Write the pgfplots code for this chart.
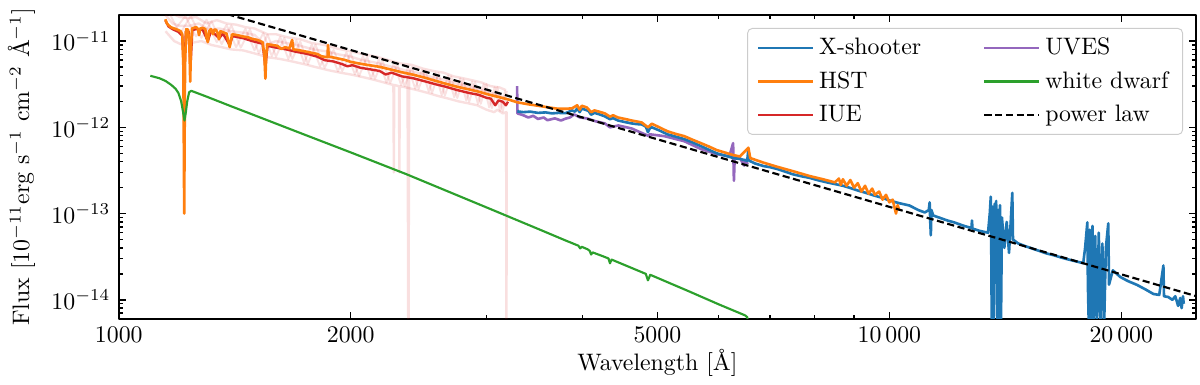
\documentclass[border=0pt]{standalone}
\usepackage{pgfplots}
\pgfplotsset{compat=1.18}
\definecolor{tabblue}{HTML}{1F77B4}
\definecolor{taborange}{HTML}{FF7F0E}
\definecolor{tabgreen}{HTML}{2CA02C}
\definecolor{tabred}{HTML}{D62728}
\definecolor{tabpurple}{HTML}{9467BD}
\begin{document}
\begin{tikzpicture}
\begin{axis}[
  scale only axis,
  width=452.5pt, height=127.5pt,
  xmode=log, ymode=log,
  xmin=1000, xmax=25000,
  ymin=6.05e-15, ymax=2.0e-11,
  xtick={1000,2000,5000,10000,20000},
  xticklabels={$1000$,$2000$,$5000$,$10\,000$,$20\,000$},
  minor xtick={3000,4000,6000,7000,8000,9000},
  ytick={1e-14,1e-13,1e-12,1e-11},
  minor ytick={7e-15,8e-15,9e-15,2e-14,3e-14,4e-14,5e-14,6e-14,7e-14,8e-14,9e-14,
    2e-13,3e-13,4e-13,5e-13,6e-13,7e-13,8e-13,9e-13,2e-12,3e-12,4e-12,5e-12,6e-12,7e-12,8e-12,9e-12},
  xlabel={Wavelength [Å]},
  ylabel={Flux [$10^{-11}$erg s$^{-1}$ cm$^{-2}$ Å$^{-1}$]},
  tick align=inside,
  major tick length=3pt, minor tick length=1.7pt,
  axis line style={line width=0.8pt},
  every tick/.style={black, line width=0.6pt},
  xlabel style={yshift=4pt},
  legend columns=2,
  legend cell align=left,
  legend image code/.code={\draw[#1] (0pt,0pt) -- (23pt,0pt);},
  legend style={at={(1,1)}, xshift=-5.4pt, yshift=-5.4pt, anchor=north east,
    draw=black!20, rounded corners=2pt, fill=white, fill opacity=0.8, text opacity=1,
    row sep=1.5pt, inner xsep=4pt, inner ysep=2pt,
    /tikz/every even column/.append style={column sep=24pt}},
  line join=round,
]
% IUE single spectra (faint)
\addplot[tabred, opacity=0.14, line width=0.8pt, forget plot] coordinates {
(1160,2.24e-11)(1200,1.2e-11)(1240,1.95e-11)(1280,1.09e-11)(1320,1.69e-11)(1360,9.2e-12)(1400,1.52e-11)(1440,8.4e-12)(1480,1.37e-11)(1520,7.2e-12)(1560,1.19e-11)(1600,6.6e-12)(1640,1.09e-11)(1680,6.2e-12)(1720,9.9e-12)(1760,5.4e-12)(1800,9.1e-12)(1850,4.9e-12)(1900,7.9e-12)(1950,4.5e-12)(2000,7.2e-12)(2050,3.9e-12)(2100,6.6e-12)(2150,3.65e-12)(2200,5.9e-12)(2250,3.27e-12)(2300,5.3e-12)(2350,3.0e-12)(2400,5.0e-12)(2450,2.8e-12)(2500,4.55e-12)(2550,2.5e-12)(2600,4.25e-12)(2650,2.33e-12)(2700,3.9e-12)(2750,2.19e-12)(2800,3.6e-12)(2850,1.98e-12)(2900,3.35e-12)(2950,1.87e-12)(3000,3.17e-12)(3050,1.67e-12)(3100,2.93e-12)(3150,1.52e-12)(3190,2.64e-12)};
\addplot[tabred, opacity=0.14, line width=0.8pt, forget plot] coordinates {
(1180,1.33e-11)(1220,1.94e-11)(1260,1.13e-11)(1300,1.77e-11)(1340,9.7e-12)(1380,1.54e-11)(1420,8.5e-12)(1460,1.39e-11)(1500,7.8e-12)(1540,1.24e-11)(1580,6.7e-12)(1620,1.12e-11)(1660,6.2e-12)(1700,1.02e-11)(1740,5.6e-12)(1780,9.1e-12)(1825,5.1e-12)(1875,8.3e-12)(1925,4.46e-12)(1975,7.4e-12)(2025,4.13e-12)(2075,6.7e-12)(2125,3.69e-12)(2175,6.1e-12)(2225,3.3e-12)(2275,5.5e-12)(2325,3.1e-12)(2375,5.0e-12)(2425,2.8e-12)(2475,4.65e-12)(2525,2.6e-12)(2575,4.3e-12)(2625,2.35e-12)(2675,3.97e-12)(2725,2.23e-12)(2775,3.7e-12)(2825,2.04e-12)(2875,3.4e-12)(2925,1.87e-12)(2975,3.17e-12)(3025,1.7e-12)(3075,2.92e-12)(3125,1.55e-12)(3175,2.68e-12)};
\addplot[tabred, opacity=0.15, line width=1pt, forget plot] coordinates {
(1150,2.4e-11)(1170,2.1e-11)(1200,1.9e-11)(1230,1.85e-11)(1260,1.9e-11)(1300,1.6e-11)(1340,1.75e-11)(1380,1.6e-11)(1420,1.55e-11)(1460,1.45e-11)(1500,1.4e-11)(1560,1.2e-11)(1600,1.2e-11)(1660,1.1e-11)(1720,1.05e-11)(1780,9.5e-12)(1850,9.0e-12)(1920,8.2e-12)(2000,7.6e-12)(2080,7.0e-12)(2160,6.6e-12)(2240,6.0e-12)(2320,5.5e-12)(2400,5.3e-12)(2480,4.8e-12)(2560,4.5e-12)(2640,4.3e-12)(2720,3.9e-12)(2800,3.7e-12)(2880,3.5e-12)(2960,3.3e-12)(3040,3.0e-12)(3120,2.9e-12)(3180,2.7e-12)};
\addplot[tabred, opacity=0.15, line width=1pt, forget plot] coordinates {
(1150,1.3e-11)(1180,1.0e-11)(1210,9e-12)(1240,9.5e-12)(1280,1.0e-11)(1320,9.0e-12)(1360,8.5e-12)(1400,8.0e-12)(1450,7.8e-12)(1500,7.2e-12)(1560,6.5e-12)(1620,6.2e-12)(1680,5.8e-12)(1740,5.4e-12)(1800,5.0e-12)(1870,4.6e-12)(1940,4.3e-12)(2000,4.1e-12)(2080,3.8e-12)(2160,3.5e-12)(2240,3.2e-12)(2272,3.1e-12)(2275,3e-13)(2278,3.1e-12)(2310,3.0e-12)(2313,3e-13)(2316,3.0e-12)(2360,2.9e-12)(2440,2.7e-12)(2520,2.5e-12)(2600,2.3e-12)(2680,2.15e-12)(2760,2.0e-12)(2840,1.9e-12)(2920,1.8e-12)(3000,1.6e-12)(3070,1.5e-12)(3100,1.6e-12)(3150,1.45e-12)(3182,1.5e-12)(3185,1e-15)(3188,1.5e-12)(3195,1.5e-12)};
\addplot[tabred, opacity=0.15, line width=1pt, forget plot] coordinates {
(1150,2.0e-11)(1175,1.6e-11)(1200,1.5e-11)(1235,1.5e-11)(1270,1.6e-11)(1310,1.35e-11)(1350,1.4e-11)(1400,1.3e-11)(1450,1.25e-11)(1500,1.18e-11)(1550,9e-12)(1600,1.0e-11)(1660,9.4e-12)(1720,8.8e-12)(1790,8.0e-12)(1860,7.6e-12)(1930,7.0e-12)(2000,6.6e-12)(2070,6.0e-12)(2140,5.7e-12)(2210,5.3e-12)(2290,4.9e-12)(2370,4.5e-12)(2376,1e-15)(2382,4.5e-12)(2470,4.2e-12)(2550,3.8e-12)(2630,3.6e-12)(2710,3.3e-12)(2790,3.1e-12)(2870,2.9e-12)(2950,2.75e-12)(3030,2.55e-12)(3110,2.35e-12)(3170,2.2e-12)};
% UVES
\addplot[tabpurple, line width=1.1pt, forget plot] coordinates {
(3288,3.0e-12)(3292,1.45e-12)(3350,1.38e-12)(3400,1.30e-12)(3450,1.36e-12)(3500,1.25e-12)(3560,1.30e-12)(3600,1.21e-12)(3680,1.27e-12)(3750,1.20e-12)(3800,1.26e-12)(3850,1.30e-12)(3900,1.41e-12)(3970,1.30e-12)(4050,1.27e-12)(4150,1.18e-12)(4274,1.11e-12)(4340,1.0e-12)(4450,1.05e-12)(4630,9.7e-13)(4861,8.0e-13)(4888,8.3e-13)(5107,7.9e-13)(5419,6.9e-13)(5696,5.6e-13)(5970,4.9e-13)(6200,4.6e-13)(6270,6.55e-13)(6285,2.4e-13)(6300,4.5e-13)(6400,4.4e-13)(6480,3.6e-13)(6500,4.2e-13)(6550,3.75e-13)};
% X-shooter
\addplot[tabblue, line width=1.1pt, forget plot] coordinates {
(3290,1.53e-12)(3350,1.50e-12)(3420,1.52e-12)(3500,1.47e-12)(3580,1.49e-12)(3650,1.45e-12)(3720,1.47e-12)(3800,1.46e-12)(3875,1.57e-12)(3910,1.52e-12)(3935,1.66e-12)(3965,1.50e-12)(3990,1.65e-12)(4030,1.60e-12)(4070,1.55e-12)(4102,1.40e-12)(4143,1.47e-12)(4200,1.42e-12)(4274,1.34e-12)(4340,1.24e-12)(4380,1.28e-12)(4444,1.20e-12)(4540,1.15e-12)(4630,1.11e-12)(4700,1.09e-12)(4770,1.08e-12)(4830,1.02e-12)(4861,8.8e-13)(4890,9.8e-13)(4918,1.0e-12)(5030,9.2e-13)(5152,8.3e-13)(5280,7.8e-13)(5419,7.3e-13)(5550,6.7e-13)(5696,6.05e-13)(5830,5.5e-13)(5970,5.0e-13)(6120,4.7e-13)(6280,4.4e-13)(6400,4.3e-13)(6540,4.1e-13)(6563,5.6e-13)(6580,4.1e-13)(6700,3.8e-13)(6863,3.56e-13)(7000,3.45e-13)(7143,3.3e-13)(7300,3.1e-13)(7500,2.85e-13)(7700,2.7e-13)(7875,2.6e-13)(8100,2.42e-13)(8300,2.3e-13)(8500,2.2e-13)(8705,2.1e-13)(8900,1.98e-13)(9100,1.85e-13)(9300,1.75e-13)(9577,1.61e-13)(9800,1.52e-13)(10000,1.42e-13)(10300,1.32e-13)(10620,1.24e-13)(10900,1.1e-13)(11120,1.03e-13)(11250,1.1e-13)(11280,1.35e-13)(11300,8e-14)(11320,5.6e-14)(11340,1.1e-13)(11400,9.5e-14)(11600,9.0e-14)(11900,8.3e-14)(12140,7.9e-14)(12500,7.2e-14)(12780,6.8e-14)(12800,8.3e-14)(12820,6.7e-14)(13100,6.3e-14)(13430,6.0e-14)(13500,1.0e-13)(13540,1.57e-13)(13560,4e-14)(13580,5e-15)(13620,1.2e-13)(13650,5e-15)(13700,1.3e-13)(13730,3e-14)(13760,1.4e-13)(13800,5e-15)(13840,1.1e-13)(13880,5e-15)(13920,1.25e-13)(13960,5e-15)(14000,9e-14)(14100,4e-14)(14200,8e-14)(14300,3.5e-14)(14440,1.74e-13)(14470,5e-14)(14700,4.5e-14)(15000,4.2e-14)(15500,3.8e-14)(16000,3.45e-14)(16320,3.3e-14)(16800,3.05e-14)(17300,2.85e-14)(17850,2.66e-14)(17950,4e-14)(18070,7.9e-14)(18100,1.5e-14)(18150,5e-15)(18200,6.5e-14)(18280,5e-15)(18350,7.2e-14)(18420,5e-15)(18500,5.5e-14)(18600,5e-15)(18700,6e-14)(18800,5e-15)(18900,4.5e-14)(19000,5e-15)(19100,4e-14)(19240,7.7e-14)(19280,1.5e-14)(19500,2.2e-14)(19940,1.84e-14)(20400,1.65e-14)(20960,1.49e-14)(21500,1.32e-14)(22010,1.17e-14)(22400,1.14e-14)(22680,2.5e-14)(22720,1.1e-14)(23000,1.08e-14)(23300,1.0e-14)(23500,1.1e-14)(23700,8.5e-15)(23850,1.05e-14)(23950,8.0e-15)(24050,1.1e-14)(24100,9e-15)};
% IUE
\addplot[tabred, line width=1.0pt, forget plot] coordinates {
(1150,1.72e-11)(1160,1.48e-11)(1175,1.37e-11)(1195,1.28e-11)(1209,1.15e-11)(1216,4e-12)(1222,1.3e-11)(1232,1.3e-11)(1239,5e-12)(1246,1.34e-11)(1262,1.38e-11)(1285,1.35e-11)(1305,1.0e-11)(1318,1.32e-11)(1350,1.08e-11)(1365,1.22e-11)(1393,9.0e-12)(1405,1.14e-11)(1450,1.08e-11)(1490,1.0e-11)(1537,9.3e-12)(1550,5e-12)(1560,8.8e-12)(1600,8.4e-12)(1650,8.0e-12)(1700,7.5e-12)(1757,7.1e-12)(1809,6.6e-12)(1851,6.0e-12)(1900,5.8e-12)(1950,5.4e-12)(1980,5.1e-12)(2010,5.25e-12)(2060,4.9e-12)(2120,4.7e-12)(2180,4.5e-12)(2220,4.1e-12)(2260,4.3e-12)(2330,3.9e-12)(2412,3.7e-12)(2500,3.4e-12)(2580,3.15e-12)(2658,2.95e-12)(2750,2.7e-12)(2850,2.5e-12)(2932,2.38e-12)(3000,2.2e-12)(3040,2.15e-12)(3080,1.8e-12)(3110,2.05e-12)(3150,1.98e-12)(3180,1.8e-12)(3200,1.98e-12)};
% HST
\addplot[taborange, line width=1.1pt, forget plot] coordinates {
(1149,1.79e-11)(1155,1.6e-11)(1160,1.53e-11)(1168,1.45e-11)(1177,1.41e-11)(1185,1.38e-11)(1195,1.34e-11)(1203,1.3e-11)(1209,1.2e-11)(1213,5e-12)(1216,1.0e-13)(1219,5e-12)(1223,1.37e-11)(1230,1.36e-11)(1235,9e-12)(1238,3.38e-12)(1241,9e-12)(1245,1.41e-11)(1253,1.43e-11)(1260,1.45e-11)(1267,1.38e-11)(1271,1.17e-11)(1276,1.4e-11)(1286,1.42e-11)(1295,1.38e-11)(1300,1.1e-11)(1305,9.7e-12)(1310,1.3e-11)(1317,1.38e-11)(1325,1.2e-11)(1330,1.35e-11)(1337,1.36e-11)(1343,1.25e-11)(1349,1.05e-11)(1355,1.3e-11)(1365,1.27e-11)(1380,1.22e-11)(1393,8.5e-12)(1398,1.0e-11)(1403,1.2e-11)(1427,1.17e-11)(1450,1.13e-11)(1470,1.11e-11)(1490,1.06e-11)(1514,1.03e-11)(1537,9.7e-12)(1545,7e-12)(1550,3.66e-12)(1554,7e-12)(1559,9.2e-12)(1583,9.0e-12)(1607,8.8e-12)(1625,8.1e-12)(1645,8.5e-12)(1665,8.2e-12)(1679,1.03e-11)(1685,8.0e-12)(1704,7.9e-12)(1730,7.7e-12)(1757,7.5e-12)(1780,7.3e-12)(1809,7.1e-12)(1830,6.7e-12)(1851,6.55e-12)(1866,6.5e-12)(1869,9.0e-12)(1873,6.6e-12)(1891,6.5e-12)(1930,6.25e-12)(1965,6.05e-12)(2000,5.74e-12)(2050,5.5e-12)(2100,5.3e-12)(2180,5.03e-12)(2250,4.7e-12)(2330,4.35e-12)(2412,4.07e-12)(2500,3.75e-12)(2580,3.45e-12)(2658,3.2e-12)(2750,2.95e-12)(2850,2.75e-12)(2932,2.59e-12)(3020,2.4e-12)(3110,2.25e-12)(3204,2.1e-12)(3290,1.95e-12)(3400,1.85e-12)(3500,1.78e-12)(3600,1.71e-12)(3700,1.65e-12)(3800,1.64e-12)(3875,1.66e-12)(3935,1.8e-12)(3965,1.6e-12)(3990,1.78e-12)(4050,1.7e-12)(4102,1.5e-12)(4143,1.57e-12)(4200,1.52e-12)(4274,1.45e-12)(4340,1.33e-12)(4380,1.38e-12)(4444,1.3e-12)(4540,1.25e-12)(4630,1.2e-12)(4770,1.14e-12)(4861,1.0e-12)(4918,1.1e-12)(5030,1.0e-12)(5152,9.0e-13)(5280,8.4e-13)(5419,7.9e-13)(5550,7.2e-13)(5696,6.55e-13)(5830,6.0e-13)(5970,5.45e-13)(6120,5.1e-13)(6280,4.75e-13)(6400,4.6e-13)(6563,5.8e-13)(6600,4.4e-13)(6863,3.9e-13)(7143,3.5e-13)(7500,3.1e-13)(7875,2.73e-13)(8200,2.5e-13)(8500,2.3e-13)(8600,2.55e-13)(8650,2.15e-13)(8705,2.5e-13)(8800,2.1e-13)(8900,2.45e-13)(9000,2.0e-13)(9100,2.25e-13)(9200,1.8e-13)(9300,2.1e-13)(9400,1.7e-13)(9500,1.95e-13)(9577,1.65e-13)(9700,1.8e-13)(9800,1.45e-13)(9900,1.65e-13)(10000,1.35e-13)(10100,1.45e-13)(10200,1.0e-13)(10250,1.25e-13)(10300,1.1e-13)};
% white dwarf model
\addplot[tabgreen, line width=0.9pt, forget plot] coordinates {
(1099,3.96e-12)(1130,3.7e-12)(1150,3.45e-12)(1170,3.1e-12)(1185,2.8e-12)(1195,2.5e-12)(1205,2.0e-12)(1212,1.5e-12)(1217,1.2e-12)(1222,1.5e-12)(1227,2.0e-12)(1234,2.55e-12)(1242,2.65e-12)(1300,2.27e-12)(1400,1.75e-12)(1500,1.38e-12)(1750,8.1e-13)(2000,5.12e-13)(2360,2.87e-13)(3000,1.18e-13)(3500,6.65e-14)(3800,4.88e-14)(3950,4.24e-14)(3970,3.95e-14)(3990,4.12e-14)(4060,3.85e-14)(4085,3.7e-14)(4102,3.35e-14)(4120,3.55e-14)(4250,3.2e-14)(4320,3.02e-14)(4340,2.65e-14)(4360,2.93e-14)(4600,2.4e-14)(4830,2.0e-14)(4861,1.68e-14)(4895,1.95e-14)(5500,1.25e-14)(6000,8.9e-15)(6500,6.6e-15)(6540,6.3e-15)(6563,5.0e-15)(6600,5.8e-15)(6800,5.2e-15)};
% power law
\addplot[black, line width=0.9pt, dash pattern=on 3pt off 1.5pt, forget plot] coordinates {
(1150,3.32e-11)(25000,1.105e-14)};
% legend, filled row by row
\addlegendimage{tabblue, line width=1.1pt}\addlegendentry{X-shooter}
\addlegendimage{tabpurple, line width=1.1pt}\addlegendentry{UVES}
\addlegendimage{taborange, line width=1.1pt}\addlegendentry{HST}
\addlegendimage{tabgreen, line width=1.1pt}\addlegendentry{white dwarf}
\addlegendimage{tabred, line width=1.1pt}\addlegendentry{IUE}
\addlegendimage{black, line width=0.9pt, dash pattern=on 3pt off 1.5pt}\addlegendentry{power law}
\end{axis}
\path (current axis.north east) ++(1.7pt,5.4pt);
\path (current axis.south west) ++(0,-25pt);
\end{tikzpicture}
\end{document}
